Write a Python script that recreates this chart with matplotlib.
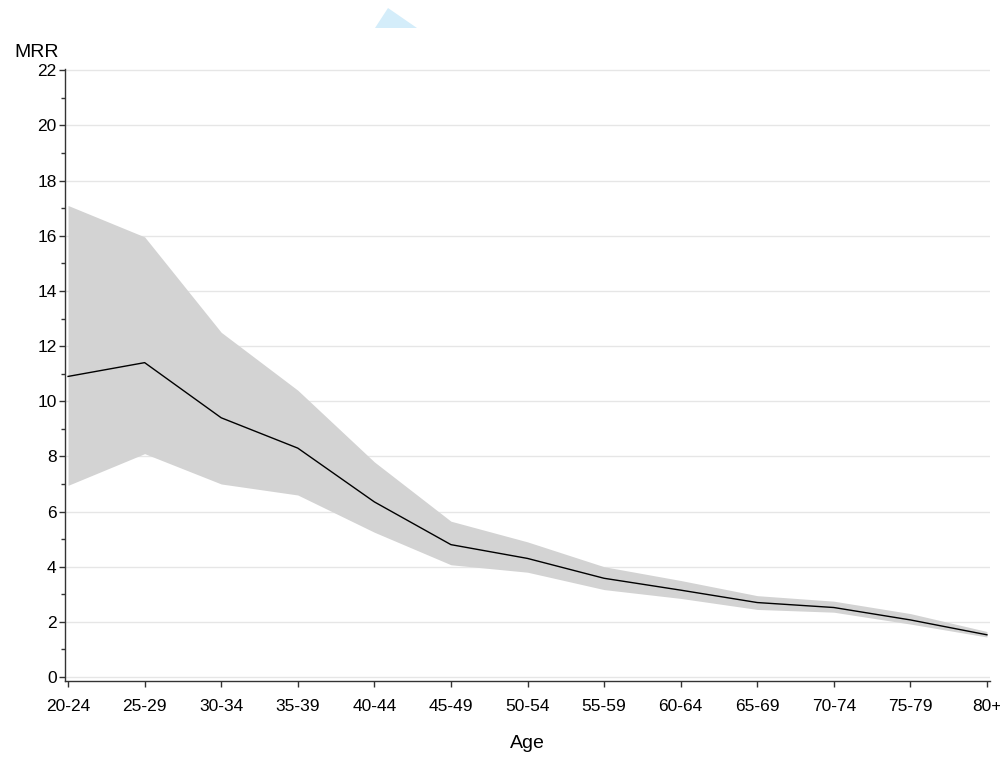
import numpy as np
import matplotlib.pyplot as plt
from matplotlib.patches import Polygon
from matplotlib.ticker import MultipleLocator

plt.rcParams['font.family'] = ['Liberation Sans', 'DejaVu Sans']

ages = ['20-24', '25-29', '30-34', '35-39', '40-44', '45-49', '50-54',
        '55-59', '60-64', '65-69', '70-74', '75-79', '80+']
mrr = [10.9, 11.4, 9.4, 8.3, 6.35, 4.8, 4.3, 3.58, 3.15, 2.7, 2.52, 2.07, 1.53]
mrr_upper = [17.1, 15.96, 12.5, 10.4, 7.8, 5.65, 4.9, 4.0, 3.5, 2.95, 2.75, 2.3, 1.65]
mrr_lower = [6.95, 8.1, 7.0, 6.6, 5.25, 4.07, 3.8, 3.17, 2.85, 2.45, 2.35, 1.92, 1.45]

x = np.arange(len(ages))

fig = plt.figure(figsize=(10, 7.57), dpi=100)
ax = fig.add_axes([0.065, 0.1004, 0.925, 0.8085])

ax.fill_between(x, mrr_lower, mrr_upper, color='#d3d3d3', linewidth=0, zorder=2)
ax.plot(x, mrr, color='black', linewidth=1.0, zorder=3)

ax.set_xlim(-0.04, 12.04)
ax.set_ylim(-0.145, 22.05)
ax.yaxis.set_major_locator(MultipleLocator(2))
ax.yaxis.set_minor_locator(MultipleLocator(1))
ax.set_xticks(x)
ax.set_xticklabels(ages)
ax.grid(axis='y', which='major', color='#e6e6e6', linewidth=1.0, zorder=0)
ax.set_axisbelow(True)

for side in ['top', 'right']:
    ax.spines[side].set_visible(False)
for side in ['left', 'bottom']:
    ax.spines[side].set_color('#333333')
    ax.spines[side].set_linewidth(1.0)

ax.tick_params(axis='both', which='major', length=4, width=1, color='#333333',
               labelsize=12.5)
ax.tick_params(axis='x', which='major', pad=9)
ax.tick_params(axis='y', which='major', pad=2)
ax.tick_params(axis='y', which='minor', length=3, width=1, color='#333333')

fig.text(0.014, 1 - 57 / 757, 'MRR', fontsize=14, ha='left', va='baseline')
ax.set_xlabel('Age', fontsize=14, labelpad=15)

# small light-blue marker above the plot
fig.patches.append(Polygon([[0.375, 1 - 28 / 757], [0.417, 1 - 28 / 757], [0.388, 1 - 8 / 757]],
                           closed=True, transform=fig.transFigure,
                           facecolor='#d4edfa', edgecolor='none'))

fig.savefig('out.png', dpi=100)
